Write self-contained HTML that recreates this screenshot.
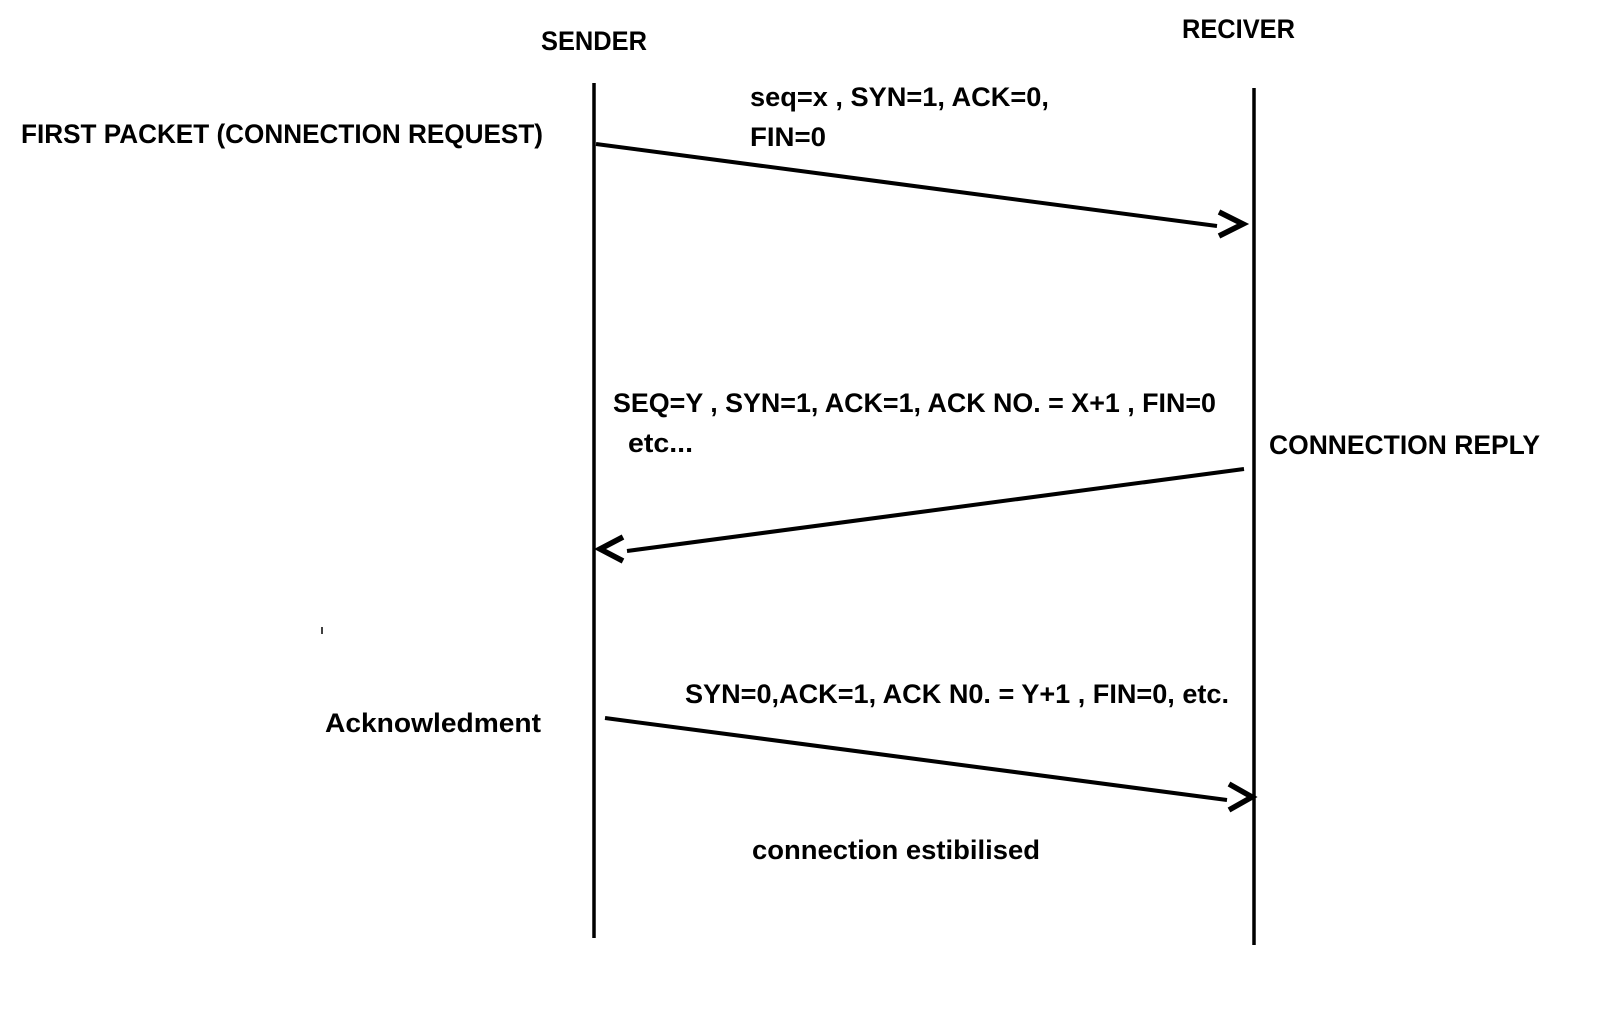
<!DOCTYPE html>
<html><head><meta charset="utf-8"><style>
html,body{margin:0;padding:0;background:#fff;}
svg{display:block;}
text{font-family:"Liberation Sans",sans-serif;font-weight:bold;font-size:27px;fill:#000;}
</style></head><body>
<svg width="1621" height="1009" viewBox="0 0 1621 1009" xmlns="http://www.w3.org/2000/svg">
<line x1="594" y1="83" x2="594" y2="938" stroke="#000" stroke-width="3.5"/>
<line x1="1254" y1="88" x2="1254" y2="945" stroke="#000" stroke-width="3.5"/>
<line x1="322" y1="627" x2="322" y2="634" stroke="#000" stroke-width="1.5"/>

<text x="541" y="50" textLength="106" lengthAdjust="spacingAndGlyphs">SENDER</text>
<text x="1182" y="38" textLength="113" lengthAdjust="spacingAndGlyphs">RECIVER</text>
<text x="21" y="143" textLength="522" lengthAdjust="spacingAndGlyphs">FIRST PACKET (CONNECTION REQUEST)</text>
<text x="750" y="106" textLength="299" lengthAdjust="spacingAndGlyphs">seq=x  , SYN=1, ACK=0,</text>
<text x="750" y="146" textLength="76" lengthAdjust="spacingAndGlyphs">FIN=0</text>

<line x1="596" y1="144" x2="1217" y2="226" stroke="#000" stroke-width="4"/>
<polyline points="1219,212 1243,224 1219,236" fill="none" stroke="#000" stroke-width="5.5"/>

<text x="613" y="412" textLength="603" lengthAdjust="spacingAndGlyphs">SEQ=Y , SYN=1, ACK=1, ACK NO. = X+1 , FIN=0</text>
<text x="628" y="452" textLength="65" lengthAdjust="spacingAndGlyphs">etc...</text>
<text x="1269" y="454" textLength="271" lengthAdjust="spacingAndGlyphs">CONNECTION REPLY</text>

<line x1="1244" y1="469" x2="627" y2="551" stroke="#000" stroke-width="4"/>
<polyline points="623,537 600,549 623,561" fill="none" stroke="#000" stroke-width="5.5"/>

<text x="685" y="703" textLength="544" lengthAdjust="spacingAndGlyphs">SYN=0,ACK=1, ACK N0. = Y+1 , FIN=0, etc.</text>
<text x="325" y="732" textLength="216" lengthAdjust="spacingAndGlyphs">Acknowledment</text>

<line x1="605" y1="718" x2="1227" y2="800" stroke="#000" stroke-width="4"/>
<polyline points="1229,784 1252,797 1229,810" fill="none" stroke="#000" stroke-width="5.5"/>

<text x="752" y="859" textLength="288" lengthAdjust="spacingAndGlyphs">connection estibilised</text>
</svg>
</body></html>
